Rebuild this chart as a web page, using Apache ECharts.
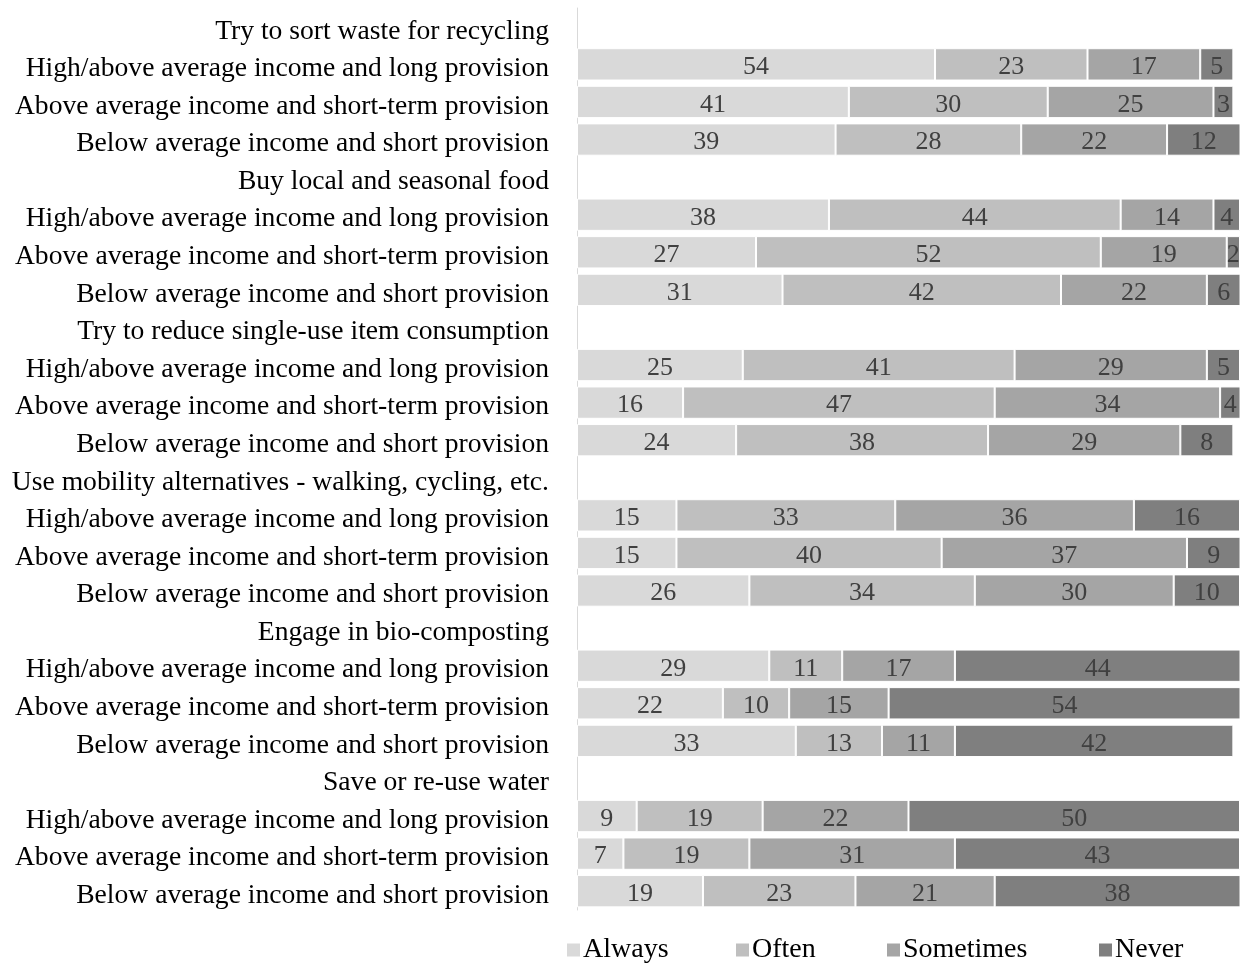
<!DOCTYPE html>
<html>
<head>
<meta charset="utf-8">
<script src="https://cdn.jsdelivr.net/npm/echarts@6/dist/echarts.min.js"></script>
<style>
  html, body { margin: 0; padding: 0; background: #fff; }
  #chart { width: 1247px; height: 963px; }
</style>
</head>
<body>
<div id="chart"></div>
<script>
// Row labels, top to bottom: each behaviour heading is followed by its three groups
const categories = [
  'Try to sort waste for recycling',
  'High/above average income and long provision',
  'Above average income and short-term provision',
  'Below average income and short provision',
  'Buy local and seasonal food',
  'High/above average income and long provision',
  'Above average income and short-term provision',
  'Below average income and short provision',
  'Try to reduce single-use item consumption',
  'High/above average income and long provision',
  'Above average income and short-term provision',
  'Below average income and short provision',
  'Use mobility alternatives - walking, cycling, etc.',
  'High/above average income and long provision',
  'Above average income and short-term provision',
  'Below average income and short provision',
  'Engage in bio-composting',
  'High/above average income and long provision',
  'Above average income and short-term provision',
  'Below average income and short provision',
  'Save or re-use water',
  'High/above average income and long provision',
  'Above average income and short-term provision',
  'Below average income and short provision'
];

// Shares (%) per answer; heading rows carry no bar
const always    = [null, 54, 41, 39, null, 38, 27, 31, null, 25, 16, 24, null, 15, 15, 26, null, 29, 22, 33, null, 9, 7, 19];
const often     = [null, 23, 30, 28, null, 44, 52, 42, null, 41, 47, 38, null, 33, 40, 34, null, 11, 10, 13, null, 19, 19, 23];
const sometimes = [null, 17, 25, 22, null, 14, 19, 22, null, 29, 34, 29, null, 36, 37, 30, null, 17, 15, 11, null, 22, 31, 21];
const never     = [null, 5, 3, 12, null, 4, 2, 6, null, 5, 4, 8, null, 16, 9, 10, null, 44, 54, 42, null, 50, 43, 38];

const seriesNames = ['Always', 'Often', 'Sometimes', 'Never'];
const seriesData = [always, often, sometimes, never];
const colors = ['#d9d9d9', '#bfbfbf', '#a5a5a5', '#7f7f7f'];

const FONT = '"Liberation Serif", "Times New Roman", serif';

const series = seriesNames.map((name, i) => ({
  name: name,
  type: 'bar',
  stack: 'total',
  barCategoryGap: '14%',
  data: seriesData[i],
  itemStyle: { color: colors[i], borderColor: '#ffffff', borderWidth: 1 },
  label: {
    show: true,
    position: 'inside',
    offset: [0, 3],
    color: '#404040',
    fontFamily: FONT,
    fontSize: 26,
    formatter: p => (p.value == null ? '' : String(p.value))
  },
  emphasis: { disabled: true }
}));

// One legend per entry so each item can sit at its own horizontal spot
const legendLefts = [565, 734, 885, 1097];
const legends = seriesNames.map((name, i) => ({
  data: [name],
  left: legendLefts[i],
  top: 936,
  icon: 'rect',
  itemWidth: 15,
  itemHeight: 15,
  itemGap: 0,
  padding: 0,
  textStyle: { fontFamily: FONT, fontSize: 28, color: '#000', padding: [0, 0, 0, -3] },
  selectedMode: false
}));

const chart = echarts.init(document.getElementById('chart'), null, { renderer: 'canvas' });
chart.setOption({
  animation: false,
  color: colors,
  legend: legends,
  grid: { left: 577, right: 7, top: 8, bottom: 53, containLabel: false },
  xAxis: {
    type: 'value',
    min: 0,
    max: 100,
    show: false
  },
  yAxis: {
    type: 'category',
    inverse: true,
    data: categories,
    axisLine: { show: true, lineStyle: { color: '#d9d9d9', width: 1 } },
    axisTick: { show: false },
    axisLabel: {
      margin: 28,
      interval: 0,
      formatter: v => '{t|' + v + '}',
      rich: {
        t: {
          color: '#000',
          fontFamily: FONT,
          fontSize: 27.6,
          padding: [9, 0, 0, 0]
        }
      }
    },
    splitLine: { show: false }
  },
  series: series
});
</script>
</body>
</html>
